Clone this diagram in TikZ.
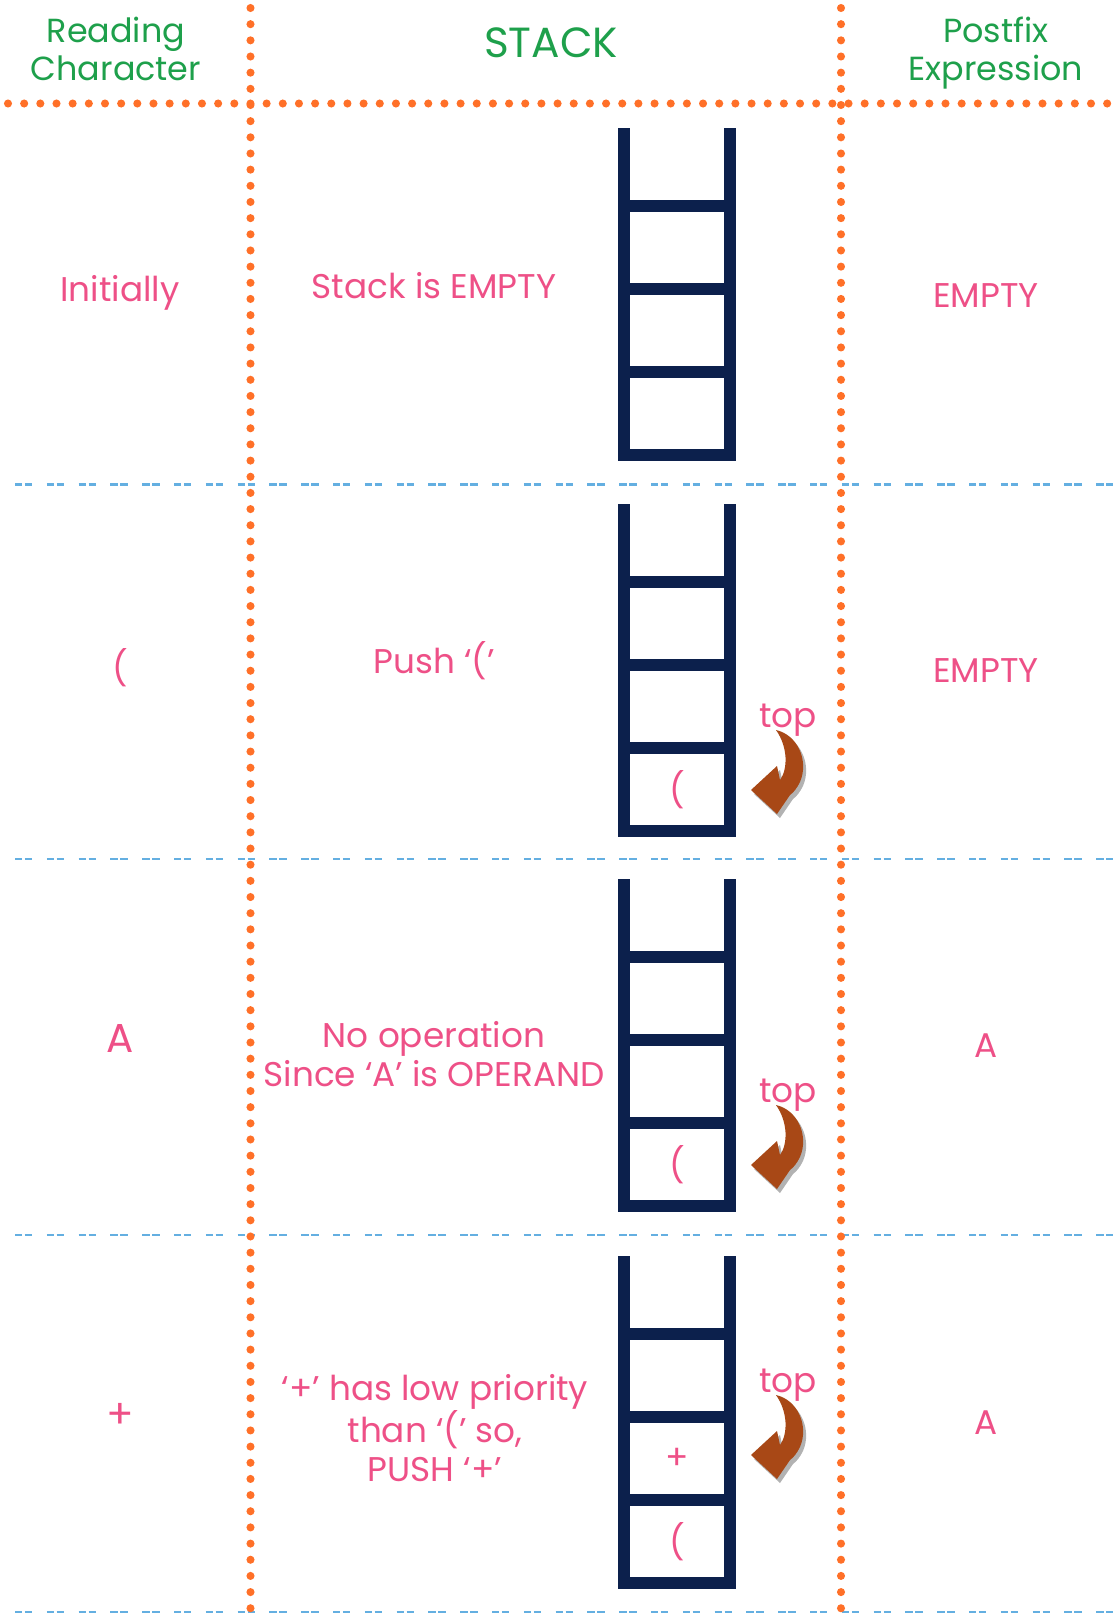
\documentclass[tikz,border=0pt]{standalone}
\usepackage{fontspec}
\setmainfont{Poppins}
\usepackage{xcolor}
\definecolor{stackblue}{RGB}{12,32,76}
\definecolor{dotorange}{RGB}{255,112,40}
\definecolor{dashblue}{RGB}{100,175,225}
\definecolor{headgreen}{RGB}{30,160,75}
\definecolor{textpink}{RGB}{238,80,135}
\definecolor{arrowbrown}{RGB}{168,72,22}

\tikzset{
  headtext/.style={text=headgreen, align=center, text depth=5pt, font=\fontsize{19}{21.5}\selectfont},
  bodytext/.style={text=textpink, align=center, font=\fontsize{19.5}{22}\selectfont},
  celltext/.style={text=textpink, font=\fontsize{19.5}{22}\selectfont},
  dotline/.style={dotorange, line width=4.6pt, line cap=round, dash pattern=on 0pt off 9.2pt},
  dashline/.style={dashblue, line width=1.5pt, dash pattern=on 4.25pt off 1.4pt on 4.25pt off 8.2pt},
  stackline/.style={stackblue, line width=7.2pt, line join=miter}
}

% shape of the curved "top" pointer, drawn around the label centre
\newcommand{\toppointer}{(-12,14) .. controls (10,19) and (21,45) .. (12,66)
  .. controls (9,72) and (6,76) .. (2,79) -- (-11,98) -- (-37,74) -- (-11,50)
  -- (-8,64) .. controls (0,53) and (0,31) .. (-12,14) -- cycle}

\begin{document}
\begin{tikzpicture}[x=0.02cm, y=-0.02cm]

% Background
\fill[white] (0,0) rectangle (1113,1624);
\useasboundingbox (0,0) rectangle (1113,1624);

% Row separators
\foreach \y in {484.5,859,1235,1612} {
    \draw[dashline] (15,\y) -- (1113,\y);
}

% Column separators
\draw[dotline] (8,103.5) -- (1110,103.5);
\draw[dotline] (250.5,8) -- (250.5,1624);
\draw[dotline] (841,8) -- (841,1624);

% Header
\node[headtext] (readhead) at (116,53) {Reading\\Character};
\node[headtext, font=\fontsize{24}{26}\selectfont, text depth=0pt] (stackhead) at (551,43) {STACK};
\node[headtext] (posthead) at (996,53) {Postfix\\Expression};

% Stacks
\foreach \t in {128,504,879,1256} {
    \draw[stackline] (624,\t) -- (624,{\t+327}) -- (730,{\t+327}) -- (730,\t);
    \foreach \k in {78,161,244}
        \draw[stackline] (624,{\t+\k}) -- (730,{\t+\k});
}

% Stack contents
\node[celltext] (par2) at (677,789.5) {(};
\node[celltext] (par3) at (677,1164.5) {(};
\node[celltext] (plus4) at (677,1458.5) {+};
\node[celltext] (par4) at (677,1541.5) {(};

% Reading character
\node[celltext] (read1) at (120,293) {Initially};
\node[celltext] (read2) at (120,668) {(};
\node[celltext, font=\fontsize{23}{25}\selectfont] (read3) at (120,1038) {A};
\node[celltext, font=\fontsize{23}{25}\selectfont] (read4) at (120,1416) {+};

% Actions
\node[bodytext] (act1) at (434,286) {Stack is EMPTY};
\node[bodytext] (act2) at (434,661) {Push ‘(’};
\node[bodytext] (act3) at (434,1054) {No operation\\Since ‘A’ is OPERAND};
\node[bodytext] (act4) at (435,1428) {‘+’ has low priority\\than ‘(’ so,\\PUSH ‘+’};

% Postfix expression
\node[celltext] (post1) at (986,296) {EMPTY};
\node[celltext] (post2) at (986,671) {EMPTY};
\node[celltext] (post3) at (986,1046) {A};
\node[celltext] (post4) at (986,1423) {A};

% Top pointers
\foreach \i/\ty in {2/716,3/1091,4/1381} {
    \node[celltext] (top\i) at (788,{\ty+4}) {top};
    \begin{scope}[shift={(788,\ty)}]
        \fill[black, opacity=0.3, shift={(3,4)}] \toppointer;
        \fill[arrowbrown] \toppointer;
    \end{scope}
}

\end{tikzpicture}
\end{document}
